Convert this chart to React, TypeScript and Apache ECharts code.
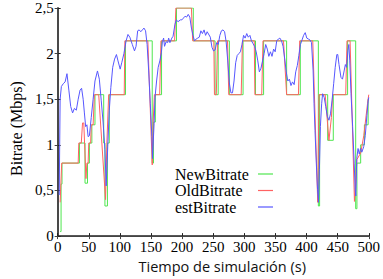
import React, { useEffect, useRef } from "react";
import * as echarts from "echarts";

// NewBitrate (step, value holds until the next time)
const newT = [4, 5.5, 7, 35, 44, 48, 51, 55, 60, 74, 76, 80, 83, 109, 152, 154, 157, 167, 191, 218, 253, 258, 276, 298, 318, 331, 368, 390, 419, 421, 434, 443, 466, 479, 481, 487, 493, 499, 500];
const newV = [0.05, 0.57, 0.8, 1.02, 0.58, 0.8, 1.02, 1.22, 1.55, 1.02, 0.33, 1.02, 1.55, 2.14, 0.8, 1.25, 1.55, 2.14, 2.5, 2.14, 1.55, 2.14, 1.55, 2.14, 1.55, 2.14, 1.55, 2.14, 0.33, 1.55, 1.05, 1.55, 2.14, 0.3, 0.8, 1.0, 1.22, 1.5, 1.5];

// OldBitrate
const oldT = [4, 6.5, 33, 34, 38, 40, 42, 45.5, 47, 49, 50, 53, 54, 57, 59, 66, 77, 79, 82, 107, 108, 145, 152, 153.5, 155.5, 164, 166, 188, 190, 215, 217, 251, 252, 255, 257, 273, 275, 295, 297, 316, 317, 328, 330, 363, 368, 387, 389, 410, 418, 420, 430, 436, 440, 442, 463, 465, 470, 477, 481, 487, 492, 498, 500];
const oldV = [0.37, 0.8, 0.8, 1.02, 1.02, 1.24, 1.24, 0.63, 0.8, 0.8, 1.02, 1.02, 1.22, 1.22, 1.55, 1.55, 0.4, 1.0, 1.55, 1.55, 2.14, 2.14, 0.78, 1.25, 1.55, 1.55, 2.14, 2.14, 2.5, 2.5, 2.14, 2.14, 1.55, 1.55, 2.14, 2.14, 1.55, 1.55, 2.14, 2.14, 1.55, 1.55, 2.14, 2.14, 1.55, 1.55, 2.14, 2.14, 0.37, 1.55, 1.55, 1.05, 1.3, 1.55, 1.55, 2.14, 2.14, 0.38, 0.84, 0.91, 1.1, 1.45, 1.55];

// estBitrate
const estT = [2.5, 4, 6, 9, 12, 15, 18, 21, 24, 27, 30, 33, 36, 38.5, 41, 43, 45, 47, 49, 51, 54, 57, 60, 64, 67, 70, 73, 76, 78, 80.5, 83, 85.5, 88.5, 91.5, 94.5, 97, 100.5, 103, 106.5, 110, 113, 116, 120, 123.5, 126, 128.6, 131, 133.6, 136.2, 138.7, 141.3, 143.8, 146.3, 148.9, 151.4, 152.4, 155, 156.5, 159, 161.6, 164.2, 166.7, 168.3, 170.3, 171.8, 174.3, 176.8, 178.4, 180.4, 183.5, 185.5, 188.5, 190.6, 193.6, 197.2, 199.7, 202.2, 204.8, 207.3, 209.9, 212.4, 215, 217.5, 220, 222.6, 225.1, 227.6, 230.2, 232.7, 235.3, 237.8, 240.3, 245.4, 248, 250.5, 253, 255.6, 258.1, 260.7, 263.2, 265.8, 268.3, 270.8, 273.4, 275.9, 278.5, 281, 283.5, 286.1, 288.6, 291.2, 293.7, 296.3, 298.8, 301.3, 303.9, 306.4, 309, 311.5, 314, 316.6, 319.1, 321.7, 324.2, 326.8, 329.3, 331.8, 334.4, 336.9, 339.4, 342, 344.5, 347.1, 349.6, 352.1, 354.7, 357.2, 359.8, 362.3, 364.8, 367.4, 369.9, 372.5, 375, 377.5, 380.1, 382.6, 385.2, 387.7, 390.2, 392.8, 395.3, 397.9, 400.4, 402.9, 405.5, 408, 410.6, 412.1, 413.6, 415.7, 417.7, 419.2, 420.7, 422.3, 424.3, 425.8, 428.4, 430.9, 433.5, 436, 438.5, 441.1, 443.6, 446.1, 448.7, 450.2, 452.2, 455.3, 457.8, 460.4, 462.4, 464.4, 466.5, 468, 469.5, 471.5, 474.1, 476.6, 478.2, 479.2, 480.7, 482.8, 484.8, 486.8, 488.9, 491.9, 494.4, 497, 499, 500];
const estV = [0.45, 1.5, 1.64, 1.67, 1.69, 1.78, 1.6, 1.42, 1.35, 1.4, 1.38, 1.5, 1.6, 1.62, 1.5, 1.35, 1.2, 1.22, 1.09, 1.1, 1.3, 1.5, 1.7, 1.81, 1.72, 1.49, 1.25, 0.95, 0.55, 0.98, 1.38, 1.63, 1.85, 1.94, 1.99, 1.92, 1.83, 1.9, 2.0, 2.14, 2.21, 2.18, 2.1, 2.03, 2.08, 2.25, 2.26, 2.24, 2.26, 2.28, 2.25, 2.1, 1.81, 1.45, 1.09, 0.85, 1.23, 1.52, 1.7, 1.85, 1.92, 2.01, 2.13, 2.17, 2.08, 2.13, 2.12, 2.17, 2.12, 2.17, 2.19, 2.32, 2.37, 2.35, 2.37, 2.37, 2.39, 2.41, 2.4, 2.43, 2.4, 2.28, 2.2, 2.14, 2.16, 2.17, 2.18, 2.25, 2.22, 2.26, 2.2, 2.24, 2.18, 2.07, 2.03, 2.04, 2.12, 2.1, 2.2, 2.25, 2.26, 2.24, 2.13, 1.92, 1.68, 1.57, 1.57, 1.7, 1.9, 1.98, 2.0, 2.02, 2.1, 2.2, 2.17, 2.22, 2.18, 2.2, 2.14, 2.11, 2.08, 2.02, 1.92, 1.8, 1.84, 1.92, 2.0, 2.1, 2.05, 1.97, 2.02, 1.97, 2.05, 2.02, 2.14, 2.16, 2.17, 2.14, 2.08, 1.95, 1.8, 1.7, 1.72, 1.65, 1.69, 1.66, 1.8, 1.87, 1.98, 2.1, 2.15, 2.2, 2.23, 2.17, 2.16, 2.15, 2.12, 1.81, 1.45, 1.16, 0.8, 0.51, 0.37, 0.73, 1.2, 1.45, 1.56, 1.52, 1.42, 1.31, 1.27, 1.34, 1.49, 1.67, 1.85, 1.99, 1.99, 1.88, 1.74, 1.72, 1.81, 1.88, 1.85, 2.03, 2.1, 1.92, 1.56, 1.2, 0.8, 0.51, 0.44, 0.85, 0.96, 0.9, 0.96, 0.92, 0.98, 1.1, 1.32, 1.48, 1.52];

const seriesNames = ["NewBitrate", "OldBitrate", "estBitrate"];
const seriesColors = ["#4fe64f", "#ff6262", "#5757ff"];
const xTitle = "Tiempo de simulación (s)";
const yTitle = "Bitrate (Mbps)";

const SERIF = "Liberation Serif";

export default function App() {
  const ref = useRef<HTMLDivElement>(null);
  useEffect(() => {
    const chart = echarts.init(ref.current!, null, { renderer: "svg" });
    const pair = (ts: number[], vs: number[]) => ts.map((t, i) => [t, vs[i]]);
    const axisCol = "#222";
    const tickRich = { s: { fontFamily: SERIF, fontSize: 15, color: "#000" } };
    chart.setOption({
      animation: false,
      backgroundColor: "#fff",
      grid: { left: 44, right: 11, top: 8, bottom: 40 },
      legend: {
        orient: "vertical",
        left: 170,
        top: 161,
        align: "right",
        icon: "rect",
        itemWidth: 15,
        itemHeight: 1.2,
        itemGap: 0.5,
        formatter: (n: string) => `{t|${n}}`,
        textStyle: {
          rich: { t: { width: 78, align: "left", fontFamily: SERIF, fontSize: 16, color: "#000", lineHeight: 18 } },
        },
        data: seriesNames,
      },
      xAxis: [
        {
          type: "value", min: 0, max: 500, interval: 50, position: "bottom",
          axisLine: { show: true, lineStyle: { color: axisCol, width: 1.5 } },
          axisTick: { show: true, inside: true, length: 3, lineStyle: { color: axisCol } },
          axisLabel: { margin: 3, formatter: (v: number) => `{s|${v}}`, rich: tickRich },
          splitLine: { show: false },
          name: `{n|${xTitle}}`, nameLocation: "middle", nameGap: 20,
          nameTextStyle: {
            padding: [0, 0, 0, 18],
            rich: { n: { fontFamily: "Open Sans", fontSize: 14.5, color: "#111" } },
          },
        },
        {
          type: "value", min: 0, max: 500, interval: 50, position: "top",
          axisLine: { show: true, lineStyle: { color: "#444", width: 1 } },
          axisTick: { show: true, inside: true, length: 3, lineStyle: { color: "#444" } },
          axisLabel: { show: false }, splitLine: { show: false },
        },
      ],
      yAxis: [
        {
          type: "value", min: 0, max: 2.5, interval: 0.5, position: "left",
          axisLine: { show: true, lineStyle: { color: axisCol, width: 1.5 } },
          axisTick: { show: true, inside: true, length: 3, lineStyle: { color: axisCol } },
          axisLabel: { margin: 4, formatter: (v: number) => `{s|${String(v).replace(".", ",")}}`, rich: tickRich },
          splitLine: { show: false },
          name: `{n|${yTitle}}`, nameLocation: "middle", nameGap: 27,
          nameTextStyle: {
            padding: [0, 13, 0, 0],
            rich: { n: { fontFamily: SERIF, fontSize: 16, color: "#000" } },
          },
        },
        {
          type: "value", min: 0, max: 2.5, interval: 0.5, position: "right",
          axisLine: { show: true, lineStyle: { color: "#444", width: 1.5 } },
          axisTick: { show: true, inside: true, length: 3, lineStyle: { color: "#444" } },
          axisLabel: { show: false }, splitLine: { show: false },
        },
      ],
      series: [
        {
          name: seriesNames[0], type: "line", step: "end", symbol: "none", data: pair(newT, newV),
          lineStyle: { color: seriesColors[0], width: 1 }, itemStyle: { color: seriesColors[0] },
        },
        {
          name: seriesNames[1], type: "line", symbol: "none", data: pair(oldT, oldV),
          lineStyle: { color: seriesColors[1], width: 1 }, itemStyle: { color: seriesColors[1] },
        },
        {
          name: seriesNames[2], type: "line", symbol: "none", data: pair(estT, estV),
          lineStyle: { color: seriesColors[2], width: 1 }, itemStyle: { color: seriesColors[2] },
        },
      ],
    });
    return () => chart.dispose();
  }, []);
  return <div ref={ref} style={{ position: "fixed", left: 0, top: 0, width: 383, height: 279, background: "#fff" }} />;
}
